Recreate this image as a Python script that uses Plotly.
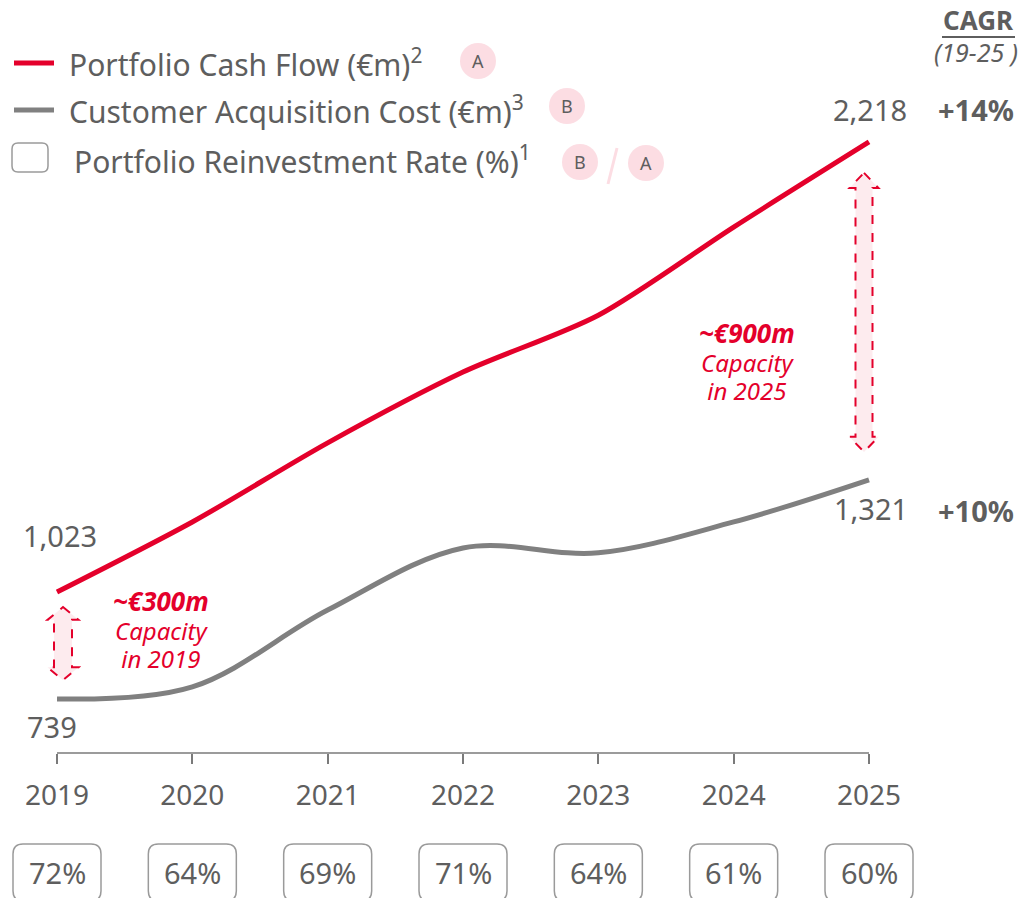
import plotly.graph_objects as go

# ---- data ----
years = [2019, 2020, 2021, 2022, 2023, 2024, 2025]
cash_flow = [1023, 1209, 1419, 1607, 1758, 1992, 2218]        # Portfolio Cash Flow (EUR m)
acq_cost = [739, 771, 975, 1140, 1127, 1209, 1321]           # Customer Acquisition Cost (EUR m)
reinvest_rate = ["72%", "64%", "69%", "71%", "64%", "61%", "60%"]
cagr_cash = "+14%"
cagr_cost = "+10%"

RED = "#E4002B"
GREY_LINE = "#808080"
TXT = "#5E5E5E"
PINK = "#FCDDE3"
FONT = "Noto Sans"

W, H = 1025, 898
T, B = 0, 145
PH = H - T - B
X_LEFT, X_RIGHT = 57, 869                 # pixel position of first / last year
STEP = (X_RIGHT - X_LEFT) / (len(years) - 1)
X0 = years[0] - X_LEFT / STEP
X1 = years[-1] + (W - X_RIGHT) / STEP
Y0, Y1 = 595.5, 2595.0


def px(x):
    return x / W


def py(y):
    return (H - B - y) / PH


def txt(x, y, text, size, color=TXT, xanchor="center", **kw):
    d = dict(x=x, y=y, text=text, showarrow=False, xanchor=xanchor, yanchor="middle",
             font=dict(family=FONT, size=size, color=color))
    d.setdefault("xref", "paper")
    d.setdefault("yref", "paper")
    d.update(kw)
    return d


fig = go.Figure()
fig.add_trace(go.Scatter(x=years, y=cash_flow, mode="lines",
                         line=dict(color=RED, width=5, shape="spline", smoothing=0.8),
                         hoverinfo="skip", showlegend=False))
fig.add_trace(go.Scatter(x=years, y=acq_cost, mode="lines",
                         line=dict(color=GREY_LINE, width=5, shape="spline", smoothing=1.0),
                         hoverinfo="skip", showlegend=False))

shapes = []
ann = []


def fmt(v):
    return f"{v:,}"


# end-point value labels
ann.append(txt(years[0], cash_flow[0], fmt(cash_flow[0]), 29, xref="x", yref="y", yshift=57, xshift=3))
ann.append(txt(years[0], acq_cost[0], fmt(acq_cost[0]), 29, xref="x", yref="y", yshift=-28, xshift=-5))
ann.append(txt(years[-1], cash_flow[-1], fmt(cash_flow[-1]), 29, xref="x", yref="y", yshift=32, xshift=1))
ann.append(txt(years[-1], acq_cost[-1], fmt(acq_cost[-1]), 29, xref="x", yref="y", yshift=-29, xshift=2))

# CAGR column
ann.append(txt(px(976), cash_flow[-1], f"<b>{cagr_cash}</b>", 29, yref="y", yshift=32))
ann.append(txt(px(976), acq_cost[-1], f"<b>{cagr_cost}</b>", 29, yref="y", yshift=-31))
ann.append(txt(px(978), py(20), "<b>CAGR</b>", 26))
shapes.append(dict(type="line", xref="paper", yref="paper", x0=px(942), x1=px(1015),
                   y0=py(37), y1=py(37), line=dict(color=TXT, width=2)))
ann.append(txt(px(976), py(52), "<i>(19-25 )</i>", 25))


# capacity arrows (dashed outline, pale fill)
def double_arrow(cx, top, bot, sh, hh, hl):
    return (f"M {cx},{top} L {cx+hh},{top-hl} L {cx+sh},{top-hl} L {cx+sh},{bot+hl} "
            f"L {cx+hh},{bot+hl} L {cx},{bot} L {cx-hh},{bot+hl} L {cx-sh},{bot+hl} "
            f"L {cx-sh},{top-hl} L {cx-hh},{top-hl} Z")


shapes.append(dict(type="path", xref="x", yref="y",
                   path=double_arrow(years[0] + 6 / STEP, cash_flow[0] - 40, acq_cost[0] + 50,
                                     9 / STEP, 15.5 / STEP, 34),
                   line=dict(color=RED, width=2, dash="dash"), fillcolor="rgba(252,221,227,0.6)"))
shapes.append(dict(type="path", xref="x", yref="y",
                   path=double_arrow(years[-1] - 5 / STEP, cash_flow[-1] - 82, acq_cost[-1] + 74,
                                     8.5 / STEP, 14.5 / STEP, 40),
                   line=dict(color=RED, width=2, dash="dash"), fillcolor="rgba(252,221,227,0.6)"))

# capacity call-outs (base size 22 keeps the line pitch tight)
for cx, cy, (head, l2, l3) in [(161, 629, ("~€300m", "Capacity", "in 2019")),
                               (747, 361, ("~€900m", "Capacity", "in 2025"))]:
    body = (f"<span style='font-size:26px'><b><i>{head}</i></b></span><br>"
            f"<span style='font-size:24px'><i>{l2}</i></span><br>"
            f"<span style='font-size:24px'><i>{l3}</i></span>")
    ann.append(txt(px(cx), py(cy), body, 22, RED, align="center"))

# legend
shapes.append(dict(type="line", xref="paper", yref="paper", x0=px(14), x1=px(54),
                   y0=py(63), y1=py(63), line=dict(color=RED, width=5)))
shapes.append(dict(type="line", xref="paper", yref="paper", x0=px(14), x1=px(54),
                   y0=py(110), y1=py(110), line=dict(color=GREY_LINE, width=5)))


def rounded_rect(x0, y0, x1, y1, rx, ry):
    return (f"M {x0+rx},{y0} L {x1-rx},{y0} Q {x1},{y0} {x1},{y0+ry} L {x1},{y1-ry} "
            f"Q {x1},{y1} {x1-rx},{y1} L {x0+rx},{y1} Q {x0},{y1} {x0},{y1-ry} "
            f"L {x0},{y0+ry} Q {x0},{y0} {x0+rx},{y0} Z")


shapes.append(dict(type="path", xref="paper", yref="paper",
                   path=rounded_rect(px(12), py(143), px(48), py(172), 6 / W, -6 / PH),
                   line=dict(color="#9A9A9A", width=1.5)))

legend_items = [
    (67, 63, "Portfolio Cash Flow (€m)<sup>2</sup>"),
    (67, 110, "Customer Acquisition Cost (€m)<sup>3</sup>"),
    (72, 160, "Portfolio Reinvestment Rate (%)<sup>1</sup>"),
]
for lx, ly, t in legend_items:
    ann.append(txt(px(lx), py(ly), t, 30, xanchor="left"))

# A / B markers
for cx, cy, letter in [(478, 61, "A"), (567, 106, "B"), (580, 162, "B"), (646, 163, "A")]:
    shapes.append(dict(type="circle", xref="paper", yref="paper",
                       x0=px(cx - 18), x1=px(cx + 18), y0=py(cy - 18), y1=py(cy + 18),
                       fillcolor=PINK, line=dict(width=0), layer="below"))
    ann.append(txt(px(cx), py(cy), letter, 18))
shapes.append(dict(type="line", xref="paper", yref="paper", x0=px(617), x1=px(608),
                   y0=py(148), y1=py(184), line=dict(color=PINK, width=3)))

# x-axis baseline
shapes.append(dict(type="line", xref="x", yref="paper", x0=years[0], x1=years[-1], y0=0, y1=0,
                   line=dict(color="#7A7A7A", width=1.5)))

# reinvestment-rate boxes under each year
hw = 44 / STEP
for yr, rate in zip(years, reinvest_rate):
    shapes.append(dict(type="path", xref="x", yref="paper",
                       path=rounded_rect(yr - hw, py(844), yr + hw, py(901), 10 / STEP, -10 / PH),
                       line=dict(color="#9A9A9A", width=1.5)))
    ann.append(txt(yr, py(872), rate, 29, xref="x"))

fig.update_layout(
    width=W, height=H,
    margin=dict(l=0, r=0, t=T, b=B, pad=0),
    paper_bgcolor="white", plot_bgcolor="white",
    shapes=shapes, annotations=ann,
    xaxis=dict(range=[X0, X1], tickvals=years, ticktext=[str(y) for y in years],
               showgrid=False, zeroline=False, showline=False,
               ticks="outside", ticklen=10, tickwidth=1.5, tickcolor="#7A7A7A",
               tickfont=dict(family=FONT, size=28, color=TXT), ticklabelstandoff=7),
    yaxis=dict(range=[Y0, Y1], visible=False, showgrid=False, zeroline=False),
)

fig.write_html("out.html")
